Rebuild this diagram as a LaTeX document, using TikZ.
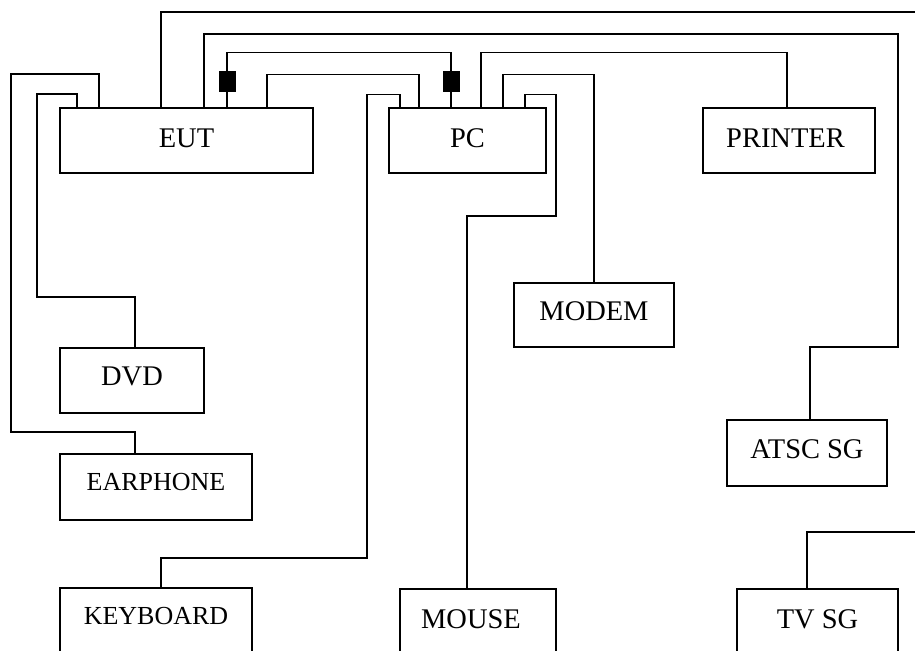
\documentclass[tikz,border=0pt]{standalone}
\usepackage{fontspec}
\setmainfont{Liberation Serif}
\usetikzlibrary{calc}
\tikzset{
	unit/.style n args={3}{draw, line width=0.95pt, anchor=north west, inner sep=0pt, outer sep=0pt, align=center,
		minimum width=#1*0.02cm, minimum height=#2*0.02cm,
		text height=18*0.02cm, text depth=#3*0.02cm, font=\fontsize{16.2}{18}\selectfont},
	narrow/.style={font=\fontsize{14.8}{18}\selectfont},
	wire/.style={line width=0.95pt},
	filter/.style={draw, fill=black, minimum width=16*0.02cm, minimum height=20*0.02cm, inner sep=0pt, outer sep=0pt}
}
\begin{document}
\begin{tikzpicture}[x=0.02cm, y=-0.02cm]
		\clip[use as bounding box] (0,0) rectangle (915,650);
		\node[unit={253}{65}{5}] (eut) at (60,108) {EUT};
		\node[unit={157}{65}{5}] (pc) at (389,108) {PC};
		\node[unit={172}{65}{5}] (printer) at (703,108) {PRINTER\hspace{4pt}};
		\node[unit={160}{64}{8}] (modem) at (514,283) {MODEM};
		\node[unit={144}{65}{8}] (dvd) at (60,348) {DVD};
		\node[unit={160}{66}{7}] (atsc) at (727,420) {ATSC SG};
		\node[unit={192}{66}{12}, narrow] (earphone) at (60,454) {EARPHONE};
		\node[unit={192}{66}{12}, narrow] (keyboard) at (60,588) {KEYBOARD};
		\node[unit={156}{66}{6}] (mouse) at (400,589) {MOUSE\hspace{8pt}};
		\node[unit={161}{66}{6}] (tvsg) at (737,589) {TV SG};
		\node[filter] (filterA) at (227,81.5) {};
		\node[filter] (filterB) at (451,81.5) {};
		\coordinate (endA) at (915,12);
		\coordinate (endB) at (915,532);
		\draw[wire] ($(eut.north west)+(39,0)$) |- (11,74) -- (11,432) -| ($(earphone.north west)+(75,0)$);
		\draw[wire] ($(eut.north west)+(17,0)$) |- (37,94) -- (37,297) -| ($(dvd.north west)+(75,0)$);
		\draw[wire] ($(eut.north west)+(101,0)$) |- (endA);
		\draw[wire] ($(eut.north west)+(144,0)$) |- (898,34) -- (898,347) -| ($(atsc.north west)+(83,0)$);
		\draw[wire] ($(eut.north west)+(167,0)$) -- (filterA.south);
		\draw[wire] (filterA.north) |- (451,52.5) -- (filterB.north);
		\draw[wire] (filterB.south) -- ($(pc.north west)+(62,0)$);
		\draw[wire] ($(eut.north west)+(207,0)$) |- (419,74.5) -- ($(pc.north west)+(30,0)$);
		\draw[wire] ($(pc.north west)+(11,0)$) |- (367,94.5) -- (367,558) -| ($(keyboard.north west)+(101,0)$);
		\draw[wire] ($(pc.north west)+(92,0)$) |- (787,52.5) -- ($(printer.north west)+(84,0)$);
		\draw[wire] ($(pc.north west)+(114,0)$) |- (594,74.5) -- ($(modem.north west)+(80,0)$);
		\draw[wire] ($(pc.north west)+(136,0)$) |- (556,94.5) -- (556,216) -| ($(mouse.north west)+(67,0)$);
		\draw[wire] ($(tvsg.north west)+(70,0)$) |- (endB);
		\end{tikzpicture}
\end{document}
